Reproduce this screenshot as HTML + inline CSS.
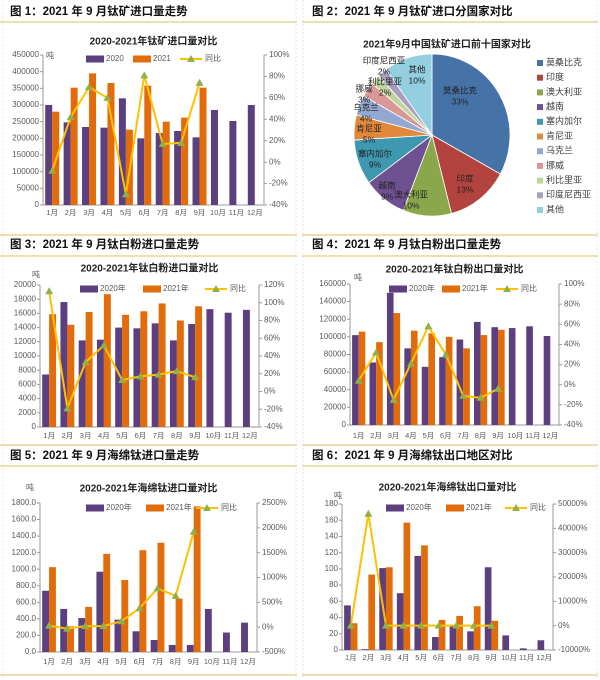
<!DOCTYPE html>
<html><head><meta charset="utf-8">
<style>
body{margin:0;background:#fff;width:600px;height:680px;overflow:hidden;font-family:"Liberation Sans","Noto Sans CJK SC",sans-serif;}
svg{position:absolute;left:0;top:0}
</style></head><body>
<svg id="s" width="600" height="680" xmlns="http://www.w3.org/2000/svg" font-family="Liberation Sans, Noto Sans CJK SC, sans-serif"></svg>
<script>
const S=document.getElementById('s');let h='';
function T(x,y,t,o){o=o||{};h+=`<text x="${x}" y="${y}" font-size="${o.fs||8.5}" fill="${o.c||'#595959'}" text-anchor="${o.a||'middle'}" font-weight="${o.w||'normal'}" dominant-baseline="middle">${t}</text>`;}
function L(x1,y1,x2,y2,c,w,d){h+=`<line x1="${x1}" y1="${y1}" x2="${x2}" y2="${y2}" stroke="${c}" stroke-width="${w||1}" ${d?'stroke-dasharray="'+d+'"':''}/>`;}
[[22],[235],[256],[445],[466],[675]].forEach(v=>{L(0,v[0],297,v[0],'#e3cc7a',1.2);L(302,v[0],598,v[0],'#e3cc7a',1.2);});
[3,296,303,597].forEach(x=>{L(x,0,x,678,'#d8d8d8',0.6,'2,2');});
const heads=[[10,12,'图 1：2021 年 9 月钛矿进口量走势'],[312,12,'图 2：2021 年 9 月钛矿进口分国家对比'],[10,245,'图 3：2021 年 9 月钛白粉进口量走势'],[312,245,'图 4：2021 年 9 月钛白粉出口量走势'],[10,456,'图 5：2021 年 9 月海绵钛进口量走势'],[312,456,'图 6：2021 年 9 月海绵钛出口地区对比']];
heads.forEach(a=>T(a[0],a[1],a[2],{a:'start',fs:11.5,w:'bold',c:'#111'}));
const P='#5b3f7e',O='#e36c0a',Y='#ffc000',G='#8fb04a';
function chart(c){
 const {x0,x1,y0,y1,lmax,lstep,rmin,rmax,rstep,d0,d1,yoy,title,ty,ly,my,lg,dec,wy}=c;
 const n=12,w=(x1-x0)/n,bw=w*0.38;
 T((x0+x1)/2,ty,title,{fs:10,w:'bold',c:'#222'});
 L(x0,y0,x0,y1,'#999');L(x1,y0,x1,y1,'#999');L(x0,y1,x1,y1,'#999');
 for(let v=0;v<=lmax+1e-9;v+=lstep){const y=y1-(v/lmax)*(y1-y0);T(x0-4,y,dec?v.toFixed(1):v,{a:'end',fs:8}); L(x0-3,y,x0,y,'#999');}
 for(let v=rmin;v<=rmax+1e-9;v+=rstep){const y=y1-(v-rmin)/(rmax-rmin)*(y1-y0);T(x1+5,y,v+'%',{a:'start',fs:8});L(x1,y,x1+3,y,'#999');}
 T(wy[0],wy[1],'吨',{fs:8});
 for(let i=0;i<n;i++){const cx=x0+w*(i+0.5);
  let hh=d0[i]/lmax*(y1-y0);h+=`<rect x="${cx-bw}" y="${y1-hh}" width="${bw}" height="${hh}" fill="${P}"/>`;
  if(i<d1.length){hh=d1[i]/lmax*(y1-y0);h+=`<rect x="${cx}" y="${y1-hh}" width="${bw}" height="${hh}" fill="${O}"/>`;}
  T(cx,my,(i+1)+'月',{fs:7.5});}
 let pts=yoy.map((v,i)=>[x0+w*(i+0.5),y1-(v-rmin)/(rmax-rmin)*(y1-y0)]);
 h+=`<polyline points="${pts.map(p=>p.join(',')).join(' ')}" fill="none" stroke="${Y}" stroke-width="2"/>`;
 pts.forEach(p=>h+=`<polygon points="${p[0]},${p[1]-4} ${p[0]-4},${p[1]+3} ${p[0]+4},${p[1]+3}" fill="${G}"/>`);
 const lx=lg[0];h+=`<rect x="${lx}" y="${ly-3.5}" width="18" height="7" fill="${P}"/>`;T(lx+20,ly,lg[1],{a:'start',fs:8});
 h+=`<rect x="${lg[2]}" y="${ly-3.5}" width="18" height="7" fill="${O}"/>`;T(lg[2]+20,ly,lg[3],{a:'start',fs:8});
 L(lg[4],ly,lg[4]+22,ly,Y,2);const q=lg[4]+11;h+=`<polygon points="${q},${ly-4} ${q-4},${ly+3} ${q+4},${ly+3}" fill="${G}"/>`;T(lg[4]+25,ly,'同比',{a:'start',fs:8});
}
chart({x0:43,x1:264,y0:55,y1:205,lmax:450000,lstep:50000,rmin:-40,rmax:100,rstep:20,ty:42,ly:59,my:213,wy:[50,56],
 d0:[300000,248000,234000,232000,320000,200000,216000,222000,203000,285000,252000,300000],
 d1:[280000,352000,395000,366000,226000,358000,250000,262000,352000],
 yoy:[-8,42,70,60,-30,81,17,18,74],title:'2020-2021年钛矿进口量对比',lg:[86,'2020',133,'2021',180]});
chart({x0:40,x1:259,y0:285,y1:427,lmax:20000,lstep:2000,rmin:-40,rmax:120,rstep:20,ty:269,ly:289,my:436,wy:[36,275],
 d0:[7400,17600,12200,12300,14000,13900,14600,12200,14500,16600,16100,16500],
 d1:[15900,14400,16200,18700,15800,16300,17400,15000,17000],
 yoy:[113,-19,33,52,13,17,19,23,16],title:'2020-2021年钛白粉进口量对比',lg:[80,'2020年',143,'2021年',205]});
chart({x0:350,x1:559,y0:284,y1:425,lmax:160000,lstep:20000,rmin:-40,rmax:100,rstep:20,ty:270,ly:289,my:436,wy:[358,278],
 d0:[102000,71000,150000,87000,66000,77000,97000,117000,111000,110000,112000,101000],
 d1:[106000,94000,127000,107000,104000,100000,87000,102000,108000],
 yoy:[4,32,-15,21,58,30,-11,-13,-4],title:'2020-2021年钛白粉出口量对比',lg:[389,'2020年',442,'2021年',496]});
chart({x0:40,x1:257,y0:503,y1:652,lmax:1800,lstep:200,rmin:-500,rmax:2500,rstep:500,dec:1,ty:489,ly:508,my:662,wy:[30,488],
 d0:[740,520,410,970,390,250,145,85,85,520,235,355],
 d1:[1025,310,545,1185,870,1230,1320,645,1760],
 yoy:[30,-30,20,20,120,380,780,630,1920],title:'2020-2021年海绵钛进口量对比',lg:[86,'2020年',146,'2021年',196]});
chart({x0:342,x1:553,y0:504,y1:650,lmax:180,lstep:20,rmin:-10000,rmax:50000,rstep:10000,ty:488,ly:508,my:658,wy:[338,496],
 d0:[55,1,101,70,116,16,30,23,102,18,2,12],
 d1:[33,93,102,157,129,37,42,54,36],
 yoy:[0,46000,0,0,0,0,0,0,0],title:'2020-2021年海绵钛出口量对比',lg:[386,'2020年',446,'2021年',505]});
const cx=432,cy=135,rx=78,ry=81;
const pie=[['莫桑比克',33,'#4573a7'],['印度',13,'#b3433f'],['澳大利亚',10,'#8aa84b'],['越南',9,'#6d5190'],['塞内加尔',9,'#3d98b0'],['肯尼亚',5,'#e0893a'],['乌克兰',4,'#92a8d1'],['挪威',3,'#d99896'],['利比里亚',2,'#c0d59c'],['印度尼西亚',2,'#a99dc2'],['其他',10,'#93cfe0']];
T(447,45,'2021年9月中国钛矿进口前十国家对比',{fs:10,w:'bold',c:'#222'});
let a=0;
pie.forEach((p,i)=>{const a1=a+p[1]/100*2*Math.PI;
 const X=t=>cx+rx*Math.sin(t),Yy=t=>cy-ry*Math.cos(t);
 h+=`<path d="M${cx},${cy} L${X(a)},${Yy(a)} A${rx},${ry} 0 ${p[1]>50?1:0} 1 ${X(a1)},${Yy(a1)} Z" fill="${p[2]}" stroke="#fff" stroke-width="0.8"/>`;
 a=a1;
 const ly=63+i*14.7;h+=`<rect x="537" y="${ly-3}" width="6" height="6" fill="${p[2]}"/>`;T(546,ly,p[0],{a:'start',fs:9,c:'#404040'});
});
const lab=[[460,91,'莫桑比克','33%'],[465,179,'印度','13%'],[411,195,'澳大利亚','10%'],[387,186,'越南','9%'],[375,154,'塞内加尔','9%'],[369,129,'肯尼亚','5%'],[366,108,'乌克兰','4%'],[364,89,'挪威','3%'],[385,82,'利比里亚','2%'],[384,61,'印度尼西亚','2%'],[417,70,'其他','10%']];
lab.forEach(l=>{T(l[0],l[1],l[2],{fs:8.5,c:'#222'});T(l[0],l[1]+11,l[3],{fs:8.5,c:'#222'});});
S.innerHTML=h;
</script>
</body></html>
